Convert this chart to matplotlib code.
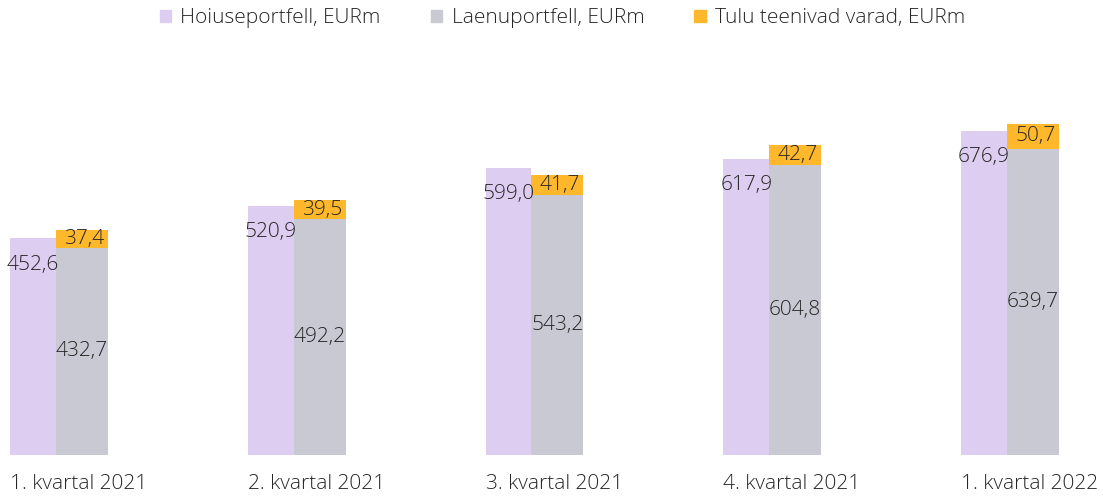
import matplotlib.pyplot as plt
from matplotlib.patches import Patch

quarters = ["1. kvartal 2021", "2. kvartal 2021", "3. kvartal 2021",
            "4. kvartal 2021", "1. kvartal 2022"]
hoiuse = [452.6, 520.9, 599.0, 617.9, 676.9]
laenu = [432.7, 492.2, 543.2, 604.8, 639.7]
tulu = [37.4, 39.5, 41.7, 42.7, 50.7]

C_HOIUSE = "#DDCDF1"
C_LAENU = "#C9C9D3"
C_TULU = "#FFB82B"
TXT = "#262626"

plt.rcParams["font.family"] = ["Open Sans", "DejaVu Sans"]

fig = plt.figure(figsize=(11.03, 4.97), dpi=100)
ax = fig.add_axes([0, 42 / 497, 1, 455 / 497])

w1, w2 = 0.193, 0.219
xs = list(range(len(quarters)))
xg = [x + w1 for x in xs]

ax.bar(xs, hoiuse, width=w1, align="edge", color=C_HOIUSE)
ax.bar(xg, laenu, width=w2, align="edge", color=C_LAENU)
ax.bar(xg, tulu, width=w2, bottom=laenu, align="edge", color=C_TULU)

for x, h, l, t in zip(xs, hoiuse, laenu, tulu):
    ax.annotate(f"{h:.1f}".replace(".", ","), (x + w1 / 2, h), xytext=(0, -19),
                textcoords="offset points", ha="center", va="center",
                fontsize=15, color=TXT, fontweight="light")
    ax.text(x + w1 + w2 / 2, l / 2, f"{l:.1f}".replace(".", ","),
            ha="center", va="center", fontsize=15, color=TXT, fontweight="light")
    ax.text(x + w1 + w2 / 2 + 0.01, l + t / 2, f"{t:.1f}".replace(".", ","),
            ha="center", va="center", fontsize=15, color=TXT, fontweight="light")

ax.set_xlim(-10 / 237.75, 1093 / 237.75)
ax.set_ylim(0, 950)
ax.set_xticks(xs)
ax.set_xticklabels(quarters, fontsize=15, color=TXT, fontweight="light")
for lbl in ax.get_xticklabels():
    lbl.set_ha("left")
ax.tick_params(axis="x", length=0, pad=14)
ax.set_yticks([])
for s in ax.spines.values():
    s.set_visible(False)

handles = [Patch(color=C_HOIUSE), Patch(color=C_LAENU), Patch(color=C_TULU)]
labels = ["Hoiuseportfell, EURm", "Laenuportfell, EURm", "Tulu teenivad varad, EURm"]
fig.legend(handles, labels, loc="center", bbox_to_anchor=(0.51, 0.963), ncol=3,
           frameon=False, handlelength=0.55, handleheight=0.55, handletextpad=0.45,
           columnspacing=2.4, prop={"size": 15, "weight": "light"}, labelcolor=TXT)

fig.savefig("out.png", dpi=100)
